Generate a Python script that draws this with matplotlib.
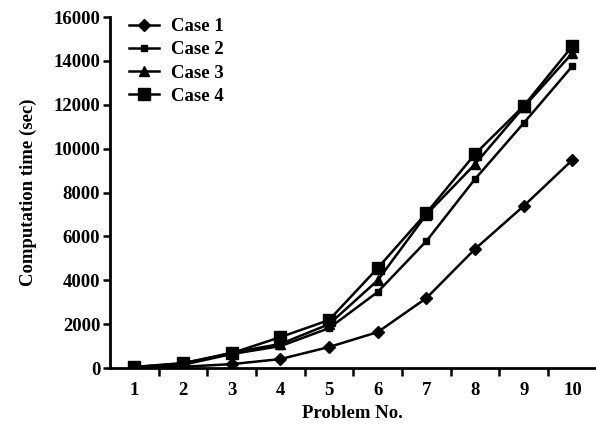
import matplotlib
matplotlib.use("Agg")
import matplotlib.pyplot as plt
import numpy as np

problems = [1, 2, 3, 4, 5, 6, 7, 8, 9, 10]
case1 = [20, 60, 180, 410, 960, 1640, 3190, 5430, 7390, 9490]
case2 = [40, 150, 640, 1000, 1820, 3470, 5790, 8620, 11170, 13770]
case3 = [50, 200, 700, 1100, 2000, 4000, 7000, 9300, 11900, 14360]
case4 = [50, 230, 680, 1410, 2190, 4560, 7070, 9760, 11950, 14680]
labels = ["Case 1", "Case 2", "Case 3", "Case 4"]
yticks = [0, 2000, 4000, 6000, 8000, 10000, 12000, 14000, 16000]

plt.rcParams['font.family'] = ['Liberation Serif', 'DejaVu Serif']
FS = 13.5
fig = plt.figure(figsize=(5.96, 4.28), dpi=100)
ax = fig.add_axes([0.1846, 0.140, 0.815, 0.820])

styles = [("D", 6.5), ("s", 5), ("^", 7.5), ("s", 9)]
for data, lab, (m, ms) in zip([case1, case2, case3, case4], labels, styles):
    ax.plot(problems, data, color="black", marker=m, markersize=ms, lw=1.8, label=lab)

ax.set_xlim(0.5, 10.48)
ax.set_ylim(0, 16000)
ax.set_yticks(yticks)
ax.set_xticks(problems)
ax.set_xticks(np.arange(1.5, 10.5, 1), minor=True)
ax.tick_params(axis='x', which='major', length=0, pad=10, labelsize=FS)
ax.tick_params(axis='x', which='minor', length=6, width=1.8, direction='out')
ax.tick_params(axis='y', which='major', length=5, width=1.8, direction='out', labelsize=FS, pad=2)
for lab in ax.get_xticklabels() + ax.get_yticklabels():
    lab.set_fontweight('bold')
for s in ['top', 'right']:
    ax.spines[s].set_visible(False)
for s in ['left', 'bottom']:
    ax.spines[s].set_linewidth(2)

ax.set_xlabel("Problem No.", fontsize=FS, fontweight='bold', labelpad=4)
ax.set_ylabel("Computation time (sec)", fontsize=FS, fontweight='bold', labelpad=12)

leg = ax.legend(loc='upper left', bbox_to_anchor=(0.005, 1.045), frameon=False,
                handlelength=1.6, handletextpad=0.6, labelspacing=0.32,
                prop={'weight': 'bold', 'size': FS})
fig.savefig("out.png", dpi=100)
